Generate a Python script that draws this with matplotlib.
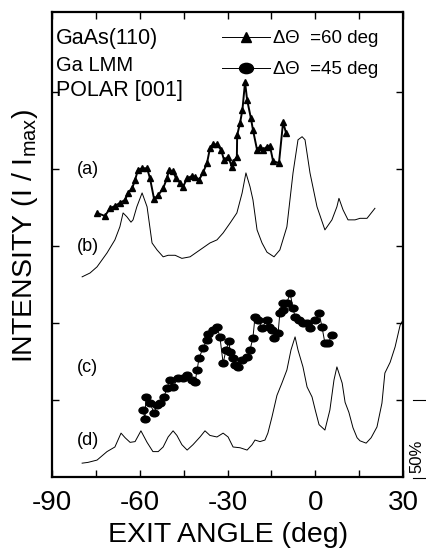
import numpy as np
import matplotlib
matplotlib.use("Agg")
import matplotlib.pyplot as plt
from matplotlib.path import Path
from matplotlib.transforms import Affine2D
from matplotlib.lines import Line2D

plt.rcParams["font.family"] = ["Liberation Sans", "DejaVu Sans"]
plt.rcParams["mathtext.fontset"] = "custom"
plt.rcParams["mathtext.rm"] = "Liberation Sans"
plt.rcParams["axes.unicode_minus"] = False

# (a) dTheta = 60 deg, triangles
a_x = [-74.6, -71.9, -70.2, -68.5, -66.8, -65.0, -64.0, -62.6, -61.6, -60.6,
       -59.2, -57.5, -56.5, -55.1, -53.7, -52.0, -50.7, -50.0, -48.6, -47.6,
       -46.2, -45.2, -43.8, -42.1, -41.1, -39.7, -38.3, -37.0, -36.0, -34.9,
       -33.6, -32.2, -31.2, -29.8, -28.5, -28.1, -26.8, -26.7, -25.7, -24.9,
       -24.0, -23.3, -22.0, -21.3, -19.9, -18.9, -17.9, -16.5, -15.5, -14.4,
       -12.4, -11.0, -10.0]
a_y = [3.43, 3.39, 3.49, 3.52, 3.56, 3.60, 3.69, 3.75, 3.86, 3.99,
       4.01, 4.01, 3.88, 3.61, 3.66, 3.75, 3.88, 3.99, 3.97, 3.88,
       3.82, 3.77, 3.88, 3.91, 3.90, 3.86, 3.96, 4.08, 4.27, 4.32,
       4.32, 4.25, 4.12, 4.16, 4.03, 4.09, 4.16, 4.44, 4.60, 4.77,
       5.13, 4.90, 4.66, 4.51, 4.25, 4.29, 4.25, 4.29, 4.30, 4.10,
       4.08, 4.61, 4.47]

# (b) calculation, thin line
b_x = [-79.7, -77.0, -74.6, -71.2, -68.5, -66.8, -65.7, -64.4, -63.0, -62.3,
       -61.0, -59.2, -57.5, -55.8, -54.1, -52.0, -50.3, -47.9, -45.6, -42.8,
       -39.4, -36.0, -33.6, -31.5, -29.1, -26.8, -25.0, -23.7, -22.3, -21.3,
       -19.9, -18.2, -16.5, -14.1, -12.1, -9.7, -7.6, -5.9, -4.5, -3.5,
       -1.8, 0.6, 3.3, 5.7, 7.4, 8.1, 9.5, 11.2, 13.6, 15.3, 17.7, 20.4]
b_y = [2.60, 2.65, 2.73, 2.91, 3.08, 3.25, 3.43, 3.38, 3.31, 3.34,
       3.51, 3.69, 3.51, 3.04, 2.95, 2.86, 2.88, 2.88, 2.84, 2.86,
       2.95, 3.04, 3.08, 3.17, 3.30, 3.43, 3.69, 3.95, 3.77, 3.60,
       3.21, 3.04, 2.92, 2.86, 2.95, 3.25, 3.95, 4.38, 4.42, 4.38,
       3.95, 3.51, 3.21, 3.34, 3.51, 3.62, 3.47, 3.34, 3.34, 3.36, 3.36, 3.49]

# (c) dTheta = 45 deg, filled ellipses
c_x = [-58.9, -58.2, -57.9, -56.5, -55.1, -54.1, -53.1, -51.7, -50.7, -49.7,
       -48.6, -46.9, -45.2, -43.8, -42.1, -41.1, -40.4, -39.7, -38.3, -37.0,
       -36.7, -34.9, -33.6, -32.6, -31.5, -30.5, -29.5, -29.1, -28.1, -27.4,
       -26.4, -25.0, -23.3, -22.3, -21.3, -20.6, -19.6, -18.2, -16.5, -15.8,
       -14.8, -14.1, -12.7, -12.1, -11.0, -11.0, -9.7, -8.6, -7.6, -6.9,
       -5.6, -4.2, -2.8, -1.8, 0.0, 1.3, 2.3, 3.3, 4.4, 5.7]
c_y = [0.87, 0.75, 1.04, 0.96, 0.83, 0.94, 0.96, 1.04, 1.16, 1.26,
       1.17, 1.29, 1.29, 1.32, 1.26, 1.23, 1.39, 1.55, 1.68, 1.78,
       1.86, 1.91, 1.95, 1.82, 1.48, 1.65, 1.77, 1.62, 1.55, 1.45,
       1.43, 1.52, 1.56, 1.65, 1.81, 2.08, 2.04, 1.94, 2.04, 1.95,
       1.91, 1.81, 1.87, 2.13, 2.17, 2.26, 2.26, 2.39, 2.19, 2.08,
       2.04, 2.00, 2.00, 1.94, 2.04, 2.13, 1.95, 1.74, 1.74, 1.84]

# (d) calculation, thin line
d_x = [-79.7, -77.7, -74.6, -71.2, -68.5, -66.4, -65.0, -63.3, -61.6, -59.6,
       -57.5, -55.5, -53.7, -52.0, -50.3, -48.6, -47.3, -45.6, -43.8, -41.8,
       -39.4, -37.7, -36.0, -33.6, -31.5, -29.8, -28.1, -25.7, -23.3, -21.6,
       -20.6, -18.9, -17.2, -16.2, -14.8, -13.1, -11.4, -9.7, -8.3, -6.9,
       -5.9, -4.2, -2.8, -1.1, 0.0, 1.3, 3.3, 5.0, 6.4, 7.4,
       9.2, 10.2, 11.5, 12.9, 14.3, 15.3, 17.4, 19.1, 21.1, 22.8,
       23.8, 25.6, 27.3, 29.0, 30.0]
d_y = [0.18, 0.19, 0.22, 0.33, 0.39, 0.57, 0.51, 0.45, 0.46, 0.60,
       0.45, 0.33, 0.33, 0.39, 0.52, 0.60, 0.54, 0.42, 0.35, 0.42,
       0.52, 0.60, 0.54, 0.52, 0.57, 0.52, 0.39, 0.38, 0.35, 0.42,
       0.48, 0.46, 0.48, 0.57, 0.78, 1.06, 1.22, 1.39, 1.65, 1.82,
       1.65, 1.43, 1.17, 1.04, 0.87, 0.68, 0.61, 0.87, 1.26, 1.43,
       1.22, 0.97, 0.84, 0.64, 0.51, 0.47, 0.44, 0.51, 0.65, 0.96,
       1.35, 1.49, 1.69, 1.97, 2.04]

curve_labels = ["(a)", "(b)", "(c)", "(d)"]
label_levels = [4.0, 3.0, 1.42, 0.48]
x_ticks = [-90, -60, -30, 0, 30]

ellipse = Path.unit_circle().transformed(Affine2D().scale(1.35, 1.0))

fig = plt.figure(figsize=(4.27, 5.5), dpi=100)
ax = fig.add_axes([0.1218, 0.1327, 0.8220, 0.8455])

ax.plot(b_x, b_y, color="black", lw=0.7)
ax.plot(d_x, d_y, color="black", lw=0.7)
ax.plot(a_x, a_y, color="black", lw=1.4, marker="^", markersize=4.2)
ax.plot(c_x, c_y, color="black", lw=0.7, marker=ellipse, markersize=6.5)

ax.set_xlim(-90, 30)
ax.set_ylim(0, 6.04)
ax.set_xticks(x_ticks)
ax.set_xticklabels([str(t) for t in x_ticks])
ax.set_xticks(np.arange(-75, 30, 30), minor=True)
ax.set_yticks([1, 2, 3, 4, 5])
ax.set_yticklabels([])
ax.tick_params(direction="in", top=True, right=True, length=5, width=1,
               labelsize=20, pad=9)
ax.tick_params(which="minor", direction="in", top=True, length=5, width=1)
for s in ax.spines.values():
    s.set_linewidth(1.6)

for lab, lev in zip(curve_labels, label_levels):
    ax.text(-81.5, lev, lab, fontsize=13, ha="left", va="center")

ax.text(0.01, 0.943, "GaAs(110)", transform=ax.transAxes, fontsize=15.5,
        ha="left", va="center")
ax.text(0.01, 0.885, "Ga LMM", transform=ax.transAxes, fontsize=14.5,
        ha="left", va="center")
ax.text(0.01, 0.831, "POLAR [001]", transform=ax.transAxes, fontsize=15.5,
        ha="left", va="center")

handles = [
    Line2D([], [], color="black", lw=0.7, marker="^", markersize=7),
    Line2D([], [], color="black", lw=0.7, marker=ellipse, markersize=10),
]
ax.legend(handles, ["\u0394\u0398  =60 deg", "\u0394\u0398  =45 deg"],
          loc="upper left", bbox_to_anchor=(0.483, 0.961), frameon=False,
          fontsize=13.5, handlelength=2.6, handletextpad=0.15,
          labelspacing=0.75, borderpad=0, borderaxespad=0)

fig.text(0.058, 0.571, r"INTENSITY (I / I$_{\rm max}$)", rotation=90,
         fontsize=20.5, ha="center", va="center")
fig.text(0.534, 0.004, "EXIT ANGLE (deg)", fontsize=20.5, ha="center",
         va="bottom")

# 50% scale bar outside the frame
fig.add_artist(Line2D([0.967, 1.0], [0.273, 0.273], color="black", lw=0.8))
fig.add_artist(Line2D([0.967, 1.0], [0.131, 0.131], color="black", lw=0.8))
fig.text(0.977, 0.17, "50%", rotation=90, fontsize=12, ha="center",
         va="center")

fig.savefig("out.png", dpi=100)
